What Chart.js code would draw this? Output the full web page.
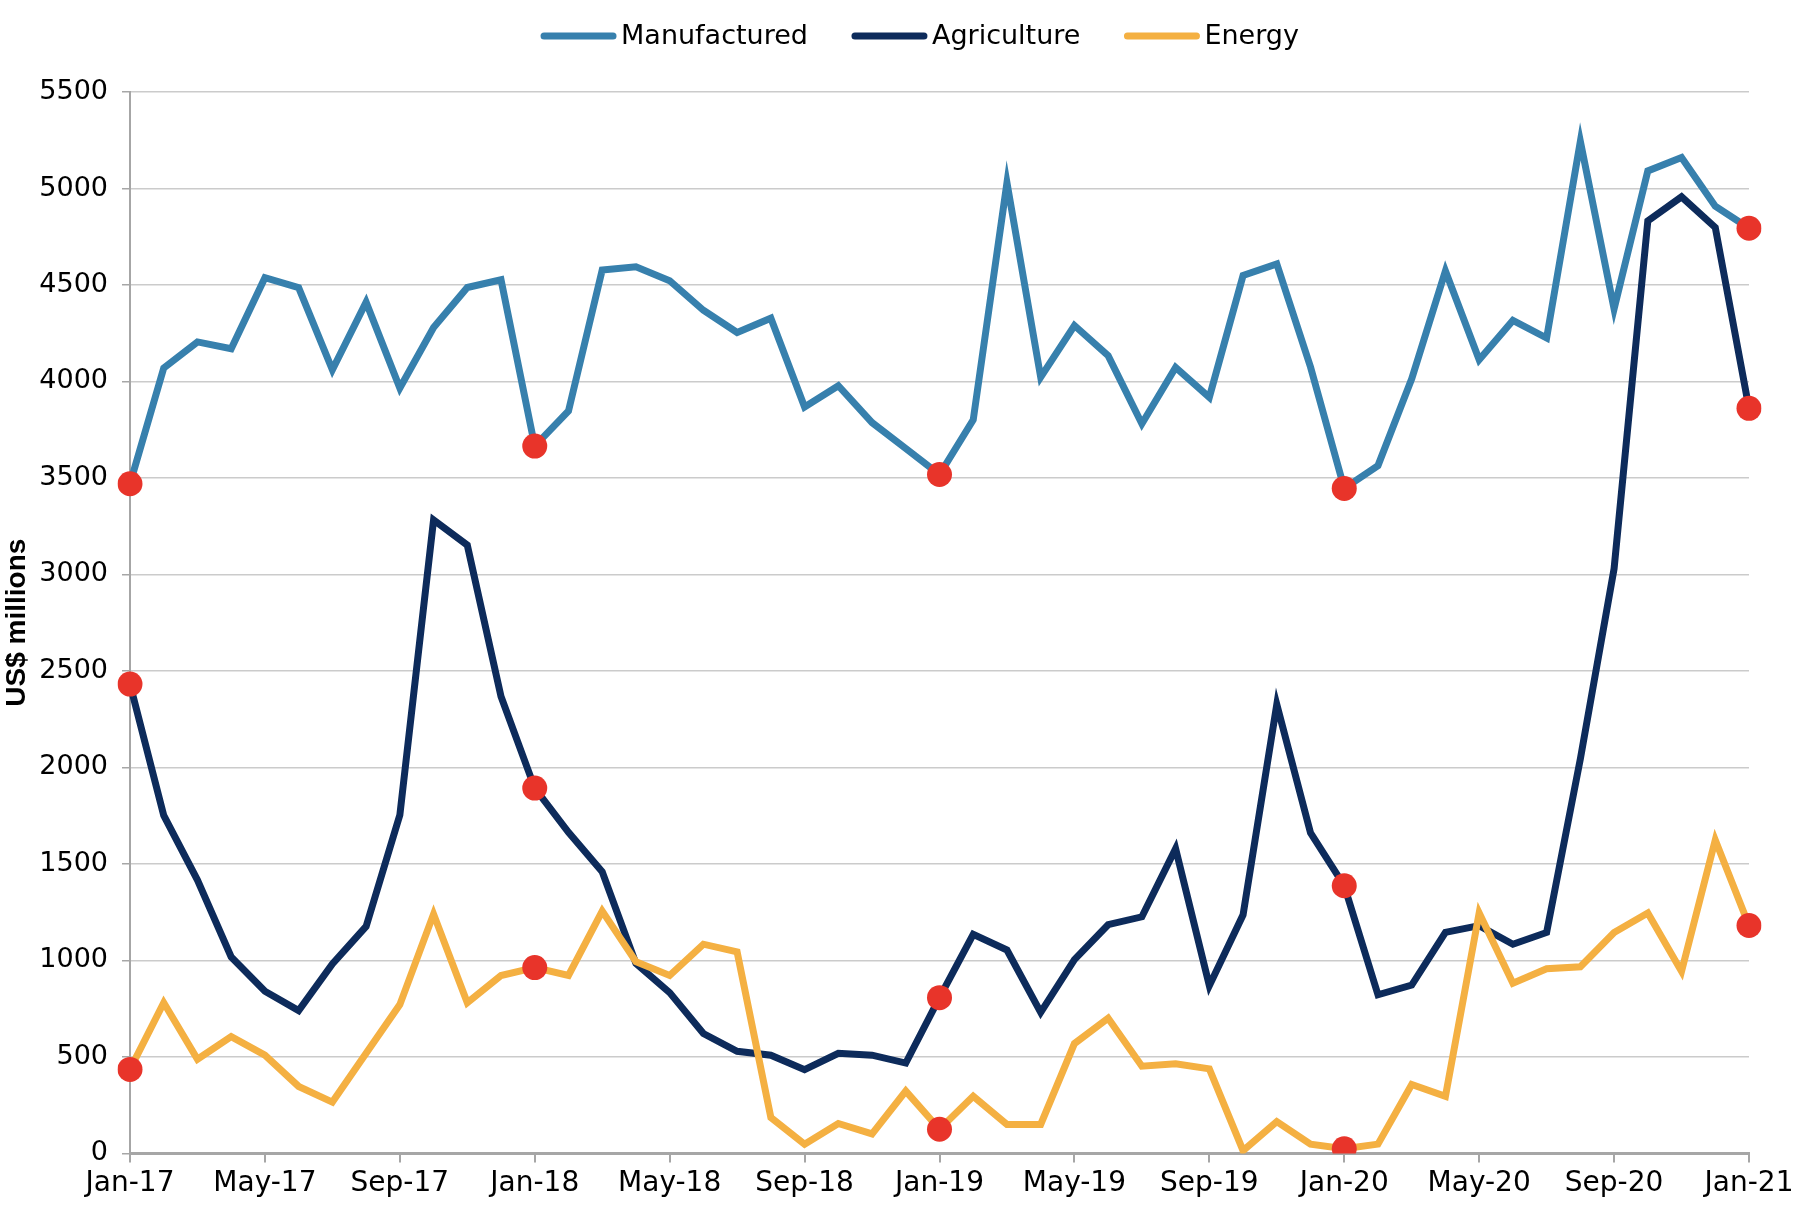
<!DOCTYPE html>
<html>
<head>
<meta charset="utf-8">
<script src="https://cdn.jsdelivr.net/npm/chart.js@4"></script>
<style>
  body { margin: 0; background: #fff; }
  canvas { display: block; }
</style>
</head>
<body>
<canvas id="chart" width="1818" height="1212"></canvas>
<script>
// months Jan-17 .. Jan-21
const months = ["Jan-17","Feb-17","Mar-17","Apr-17","May-17","Jun-17","Jul-17","Aug-17","Sep-17","Oct-17","Nov-17","Dec-17",
  "Jan-18","Feb-18","Mar-18","Apr-18","May-18","Jun-18","Jul-18","Aug-18","Sep-18","Oct-18","Nov-18","Dec-18",
  "Jan-19","Feb-19","Mar-19","Apr-19","May-19","Jun-19","Jul-19","Aug-19","Sep-19","Oct-19","Nov-19","Dec-19",
  "Jan-20","Feb-20","Mar-20","Apr-20","May-20","Jun-20","Jul-20","Aug-20","Sep-20","Oct-20","Nov-20","Dec-20",
  "Jan-21"];

const manufactured = [3470,4070,4205,4170,4538,4486,4060,4411,3966,4280,4487,4527,
  3665,3847,4578,4594,4522,4369,4254,4328,3868,3978,3787,3653,
  3518,3801,5030,4022,4290,4134,3781,4073,3918,4549,4609,4075,
  3446,3564,4014,4573,4113,4316,4225,5244,4376,5091,5160,4908,
  4794];

const agriculture = [2432,1751,1416,1018,840,740,982,1176,1753,3282,3152,2368,
  1893,1664,1459,984,833,621,529,509,434,519,509,468,
  807,1135,1054,731,1004,1185,1226,1579,869,1236,2326,1661,
  1387,822,872,1145,1180,1084,1145,2044,3030,4832,4957,4798,
  3861];

const energy = [435,781,488,605,509,347,266,519,771,1240,781,922,
  963,922,1256,993,922,1084,1044,186,48,155,101,323,
  125,296,150,150,569,700,452,464,438,14,165,48,
  24,48,357,296,1246,882,957,967,1145,1246,943,1624,
  1181];

const yTicks = [0,500,1000,1500,2000,2500,3000,3500,4000,4500,5000,5500];

const colManu = '#3780ad';
const colAgri = '#0d2b5b';
const colEnergy = '#f4b042';
const colDot = '#e8342a';
const axisGray = '#a6a6a6';
const gridGray = '#cbcbcb';

const dotRadius = ctx => (ctx.dataIndex % 12 === 0 ? 12.5 : 0);

function series(label, data, color, order) {
  return {
    label: label,
    data: data,
    borderColor: color,
    backgroundColor: color,
    borderWidth: 7,
    fill: false,
    tension: 0,
    order: order,
    pointRadius: dotRadius,
    pointHoverRadius: dotRadius,
    pointBackgroundColor: colDot,
    pointBorderWidth: 0
  };
}

// legend drawn on top, line + text
const topLegend = {
  id: 'topLegend',
  afterDraw(chart) {
    const ctx = chart.ctx;
    const items = chart.data.datasets;
    const lineW = 75, gapText = 5, gapItem = 44, cy = 36, cx = 920;
    ctx.save();
    ctx.font = '27px "DejaVu Sans"';
    ctx.textBaseline = 'middle';
    const widths = items.map(d => ctx.measureText(d.label).width);
    let total = 0;
    widths.forEach(w => total += lineW + gapText + w);
    total += gapItem * (items.length - 1);
    let x = cx - total / 2;
    items.forEach((d, i) => {
      ctx.strokeStyle = d.borderColor;
      ctx.lineWidth = 7;
      ctx.lineCap = 'round';
      ctx.beginPath();
      ctx.moveTo(x + 3, cy);
      ctx.lineTo(x + lineW - 3, cy);
      ctx.stroke();
      ctx.fillStyle = '#000';
      ctx.fillText(d.label, x + lineW + gapText, cy + 1);
      x += lineW + gapText + widths[i] + gapItem;
    });
    ctx.restore();
  }
};

new Chart(document.getElementById('chart'), {
  type: 'line',
  data: {
    labels: months,
    datasets: [
      series('Manufactured', manufactured, colManu, 3),
      series('Agriculture', agriculture, colAgri, 2),
      series('Energy', energy, colEnergy, 1)
    ]
  },
  options: {
    responsive: false,
    animation: false,
    devicePixelRatio: 1,
    layout: { padding: { top: 92, right: 69, bottom: 6, left: 0 } },
    plugins: {
      legend: { display: false },
      tooltip: { enabled: false }
    },
    scales: {
      x: {
        offset: false,
        grid: {
          drawOnChartArea: false,
          drawTicks: true,
          tickLength: 9,
          color: axisGray,
          lineWidth: 2
        },
        border: { display: true, color: axisGray, width: 3 },
        ticks: {
          autoSkip: false,
          maxRotation: 0,
          padding: 5,
          color: '#000',
          font: { family: 'DejaVu Sans', size: 28 },
          callback: function (val, i) { return i % 4 === 0 ? months[i] : null; }
        }
      },
      y: {
        min: 0,
        max: 5500,
        afterBuildTicks: scale => { scale.ticks = yTicks.map(v => ({ value: v })); },
        afterFit: scale => { scale.width = 130; },
        grid: {
          color: gridGray,
          lineWidth: 1.5,
          tickLength: 8,
          tickColor: axisGray,
          drawTicks: true
        },
        border: { display: true, color: axisGray, width: 2 },
        ticks: {
          padding: 14,
          color: '#000',
          font: { family: 'DejaVu Sans', size: 27 },
          callback: v => String(v)
        },
        title: {
          display: true,
          text: 'US$ millions',
          color: '#000',
          padding: 0,
          font: { family: 'Liberation Sans', size: 28, weight: 'bold' }
        }
      }
    }
  },
  plugins: [topLegend]
});
</script>
</body>
</html>
